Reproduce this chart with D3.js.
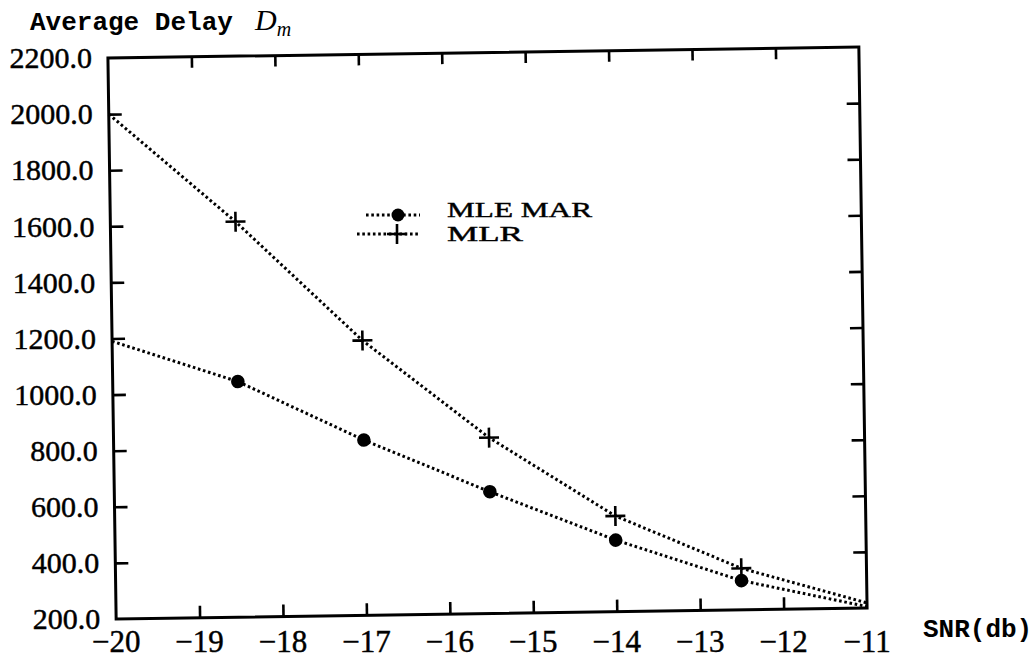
<!DOCTYPE html>
<html>
<head>
<meta charset="utf-8">
<script src="https://cdn.jsdelivr.net/npm/d3@7"></script>
<style>
  html, body { margin: 0; padding: 0; background: #fff; }
  svg { display: block; }
</style>
</head>
<body>
<svg id="chart" width="1036" height="658"></svg>
<script>
// SNR sweep (dB) and average delay for the two detectors
const snr = [-20, -18.5, -17, -15.5, -14, -12.5, -11];
const mleMar = [1190, 1040, 825, 634, 455, 304, 205];
const mlr = [2000, 1610, 1180, 827, 541, 348, 218];

// axis ticks
const xTicks = [-20, -19, -18, -17, -16, -15, -14, -13, -12, -11];
const yTicks = [200, 400, 600, 800, 1000, 1200, 1400, 1600, 1800, 2000, 2200];

const svg = d3.select("#chart");

const frame = { left: 112, right: 863, top: 52.5, bottom: 613.5 };
const cx = (frame.left + frame.right) / 2, cy = (frame.top + frame.bottom) / 2;
const tilt = -0.84; // the plotting box sits slightly askew on the page
const rad = tilt * Math.PI / 180;
function rot(px, py) {
  const dx = px - cx, dy = py - cy;
  return [cx + dx * Math.cos(rad) - dy * Math.sin(rad), cy + dx * Math.sin(rad) + dy * Math.cos(rad)];
}

const x = d3.scaleLinear().domain([-20, -11]).range([frame.left, frame.right]);
const y = d3.scaleLinear().domain([200, 2200]).range([frame.bottom, frame.top]);

const serif = "Liberation Serif, DejaVu Serif, serif";
const mono = "Liberation Mono, DejaVu Sans Mono, monospace";

const plot = svg.append("g").attr("transform", `rotate(${tilt},${cx},${cy})`);

// inward ticks on all four sides
function styleAxis(g) {
  g.select(".domain").remove();
  g.selectAll(".tick line").attr("stroke", "#000").attr("stroke-width", 2.6);
  g.selectAll(".tick text").remove();
}
plot.append("g").attr("transform", `translate(0,${frame.bottom})`)
  .call(d3.axisBottom(x).tickValues(xTicks.slice(1, -1)).tickSize(-12)).call(styleAxis);
plot.append("g").attr("transform", `translate(0,${frame.top})`)
  .call(d3.axisTop(x).tickValues(xTicks.slice(1, -1)).tickSize(-11)).call(styleAxis);
plot.append("g").attr("transform", `translate(${frame.left},0)`)
  .call(d3.axisLeft(y).tickValues(yTicks.slice(1, -1)).tickSize(-13)).call(styleAxis);
plot.append("g").attr("transform", `translate(${frame.right},0)`)
  .call(d3.axisRight(y).tickValues(yTicks.slice(1, -1)).tickSize(-13)).call(styleAxis);

plot.append("rect")
  .attr("x", frame.left).attr("y", frame.top)
  .attr("width", frame.right - frame.left).attr("height", frame.bottom - frame.top)
  .attr("fill", "none").attr("stroke", "#000").attr("stroke-width", 3);

// dotted curves
const line = d3.line().x(d => x(d[0])).y(d => y(d[1]));
const series = [
  { name: "MLE MAR", values: mleMar, marker: "dot" },
  { name: "MLR", values: mlr, marker: "plus" }
];
series.forEach(s => {
  const pts = snr.map((v, i) => [v, s.values[i]]);
  plot.append("path")
    .attr("d", line(pts))
    .attr("fill", "none").attr("stroke", "#000")
    .attr("stroke-width", 3).attr("stroke-dasharray", "2.6 2.7");
  const inner = pts.filter(p => p[0] > x.domain()[0] && p[0] < x.domain()[1]);
  if (s.marker === "dot") {
    plot.selectAll(null).data(inner).join("circle")
      .attr("cx", d => x(d[0])).attr("cy", d => y(d[1])).attr("r", 6.8).attr("fill", "#000");
  } else {
    plot.selectAll(null).data(inner).join("path")
      .attr("transform", d => `translate(${x(d[0])},${y(d[1])})`)
      .attr("d", "M-10,0H10M0,-10V10")
      .attr("stroke", "#000").attr("stroke-width", 2.6).attr("fill", "none");
  }
});

// tick labels
const labels = svg.append("g").attr("fill", "#000").attr("stroke", "#000").attr("stroke-width", 0.45);
const fmtY = d3.format(".1f");
const fmtX = d3.format("d");
labels.selectAll(null).data(xTicks).join("text")
  .attr("x", d => rot(x(d), frame.bottom)[0])
  .attr("y", 652)
  .attr("text-anchor", "middle")
  .style("font-family", serif).attr("font-size", 31)
  .text(d => fmtX(d));
labels.selectAll(null).data(yTicks).join("text")
  .attr("x", d => rot(frame.left, y(d))[0] - 16)
  .attr("y", d => rot(frame.left, y(d))[1])
  .attr("dy", "0.34em")
  .attr("text-anchor", "end")
  .style("font-family", serif).attr("font-size", 30)
  .text(d => fmtY(d));

// axis titles
const title = svg.append("text")
  .attr("x", 30).attr("y", 30)
  .style("font-family", mono).attr("font-size", 26).attr("font-weight", "bold");
title.append("tspan").text("Average Delay");
title.append("tspan").attr("x", 255).style("font-family", serif).attr("font-style", "italic")
  .attr("font-weight", "normal").attr("font-size", 30).text("D");
title.append("tspan").attr("dy", 6).style("font-family", serif).attr("font-style", "italic")
  .attr("font-weight", "normal").attr("font-size", 20).text("m");

svg.append("text")
  .attr("x", 923).attr("y", 637)
  .style("font-family", mono).attr("font-size", 26).attr("font-weight", "bold")
  .text("SNR(db)");

// legend
const legend = svg.append("g");
const legendRows = [
  { s: series[0], y: 215, x1: 366, x2: 420, mx: 398, tx: 447, ty: 217, tl: 145 },
  { s: series[1], y: 234, x1: 357, x2: 418, mx: 397, tx: 447, ty: 241, tl: 76 }
];
legendRows.forEach(r => {
  legend.append("line")
    .attr("x1", r.x1).attr("x2", r.x2).attr("y1", r.y).attr("y2", r.y)
    .attr("stroke", "#000").attr("stroke-width", 3).attr("stroke-dasharray", "2.6 2.7");
  if (r.s.marker === "dot") {
    legend.append("circle").attr("cx", r.mx).attr("cy", r.y).attr("r", 6.5).attr("fill", "#000");
  } else {
    legend.append("path").attr("transform", `translate(${r.mx},${r.y})`)
      .attr("d", "M-10,0H10M0,-10V10").attr("stroke", "#000").attr("stroke-width", 2.6);
  }
  legend.append("text")
    .attr("x", r.tx).attr("y", r.ty)
    .style("font-family", serif).attr("font-size", 21)
    .attr("textLength", r.tl).attr("lengthAdjust", "spacingAndGlyphs")
    .attr("stroke", "#000").attr("stroke-width", 0.4)
    .text(r.s.name);
});
</script>
</body>
</html>
